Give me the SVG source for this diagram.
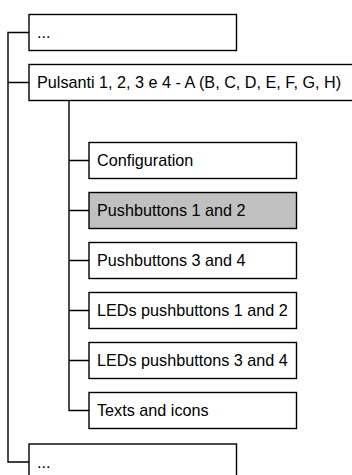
<svg xmlns="http://www.w3.org/2000/svg" width="352" height="475" viewBox="0 0 352 475">
<style>
.box{fill:#fff;stroke:#000;stroke-width:1.4}
.sel{fill:#c0c0c0}
.lbl{font-family:"Liberation Sans",Arial,sans-serif;font-size:16.2px;fill:#000}
.con{fill:none;stroke:#000;stroke-width:1.4}
</style>
<rect width="352" height="475" fill="#fff"/>
<g id="connectors">
<path class="con" d="M29 32.5H8V462H29M8 82.5H29"/>
<path class="con" d="M69 100V410.5H89M69 160.5H89M69 210.5H89M69 260.5H89M69 310.5H89M69 360.5H89"/>
</g>
<g id="node-top"><rect class="box" x="29" y="14.5" width="207.5" height="36"/><text class="lbl" x="37" y="38">...</text></g>
<g id="node-pulsanti"><rect class="box" x="29" y="64.5" width="330" height="36"/><text class="lbl" x="37" y="88">Pulsanti 1, 2, 3 e 4 - A (B, C, D, E, F, G, H)</text></g>
<g id="node-config"><rect class="box" x="89" y="142.5" width="207.5" height="36"/><text class="lbl" x="97" y="166">Configuration</text></g>
<g id="node-pb12"><rect class="box sel" x="89" y="192.5" width="207.5" height="36"/><text class="lbl" x="97" y="216">Pushbuttons 1 and 2</text></g>
<g id="node-pb34"><rect class="box" x="89" y="242.5" width="207.5" height="36"/><text class="lbl" x="97" y="266">Pushbuttons 3 and 4</text></g>
<g id="node-led12"><rect class="box" x="89" y="292.5" width="207.5" height="36"/><text class="lbl" x="97" y="316">LEDs pushbuttons 1 and 2</text></g>
<g id="node-led34"><rect class="box" x="89" y="342.5" width="207.5" height="36"/><text class="lbl" x="97" y="366">LEDs pushbuttons 3 and 4</text></g>
<g id="node-texts"><rect class="box" x="89" y="392.5" width="207.5" height="36"/><text class="lbl" x="97" y="416">Texts and icons</text></g>
<g id="node-bottom"><rect class="box" x="29" y="444" width="207.5" height="40"/><text class="lbl" x="37" y="468">...</text></g>
</svg>
